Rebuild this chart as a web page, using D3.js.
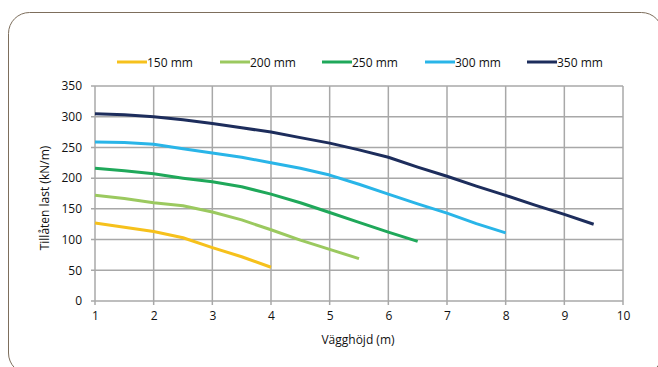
<!DOCTYPE html>
<html><head><meta charset="utf-8">
<script src="https://cdn.jsdelivr.net/npm/d3@7"></script>
<style>body{margin:0;background:#fff;}svg{display:block;font-family:"Open Sans",sans-serif;}</style>
</head><body>
<svg id="c" width="658" height="367"></svg>
<script>
const seriesNames = ["150 mm","200 mm","250 mm","300 mm","350 mm"];
const colors = ["#f6c11c","#9bc95f","#1fa85a","#29b5e8","#1d2d5c"];
const xs150 = [1,2,2.5,3,3.5,4];
const ys150 = [127,113,103,87,72,55];
const xs200 = [1,1.5,2,2.5,3,3.5,4,4.5,5,5.5];
const ys200 = [172,167,160,155,145,132,116,99,84,69];
const xs250 = [1,1.5,2,2.5,3,3.5,4,4.5,5,5.5,6,6.5];
const ys250 = [216,212,207,200,194,186,174,160,144,128,112,97];
const xs300 = [1,1.5,2,2.5,3,3.5,4,4.5,5,5.5,6,6.5,7,7.5,8];
const ys300 = [259,258,255,248,241,234,225,216,205,190,174,158,143,126,111];
const xs350 = [1,1.5,2,2.5,3,3.5,4,4.5,5,5.5,6,6.5,7,7.5,8,8.5,9,9.5];
const ys350 = [305,303,300,295,289,282,275,266,257,246,234,218,203,187,172,156,141,125];
const xTicks = [1,2,3,4,5,6,7,8,9,10];
const yTicks = [0,50,100,150,200,250,300,350];

const series = [[xs150,ys150],[xs200,ys200],[xs250,ys250],[xs300,ys300],[xs350,ys350]];
const svg = d3.select("#c");
const x = d3.scaleLinear().domain([1,10]).range([95,623]);
const y = d3.scaleLinear().domain([0,350]).range([301,86]);

// frame
svg.append("rect").attr("x",8.5).attr("y",12.5).attr("width",654).attr("height",361.5)
  .attr("rx",21).attr("fill","none").attr("stroke","#7d6e5c").attr("stroke-width",1);

// grid
const g = svg.append("g");
g.selectAll(".vg").data(xTicks).join("line")
  .attr("x1",d=>x(d)).attr("x2",d=>x(d)).attr("y1",y(350)).attr("y2",y(0)+4)
  .attr("stroke","#a8a8a8").attr("stroke-width",1.5);
g.selectAll(".hg").data(yTicks).join("line")
  .attr("x1",x(1)-4).attr("x2",x(10)).attr("y1",d=>y(d)).attr("y2",d=>y(d))
  .attr("stroke","#a8a8a8").attr("stroke-width",1.5);

// axes labels
const xa = svg.append("g").attr("transform",`translate(0,${y(0)})`)
  .call(d3.axisBottom(x).tickValues(xTicks).tickSize(0).tickPadding(10).tickFormat(d3.format("d")));
xa.select(".domain").remove();
const ya = svg.append("g").attr("transform",`translate(${x(1)},0)`)
  .call(d3.axisLeft(y).tickValues(yTicks).tickSize(0).tickPadding(13));
ya.select(".domain").remove();
svg.selectAll(".tick text").attr("font-size",12).attr("fill","#111").attr("font-family","'Open Sans',sans-serif");

// lines
const line = d3.line().x(d=>x(d[0])).y(d=>y(d[1]));
series.forEach((s,i)=>{
  const pts = s[0].map((v,j)=>[v,s[1][j]]);
  svg.append("path").datum(pts).attr("d",line).attr("fill","none")
    .attr("stroke",colors[i]).attr("stroke-width",3).attr("stroke-linejoin","round");
});

// legend
const lx = [117,220,322,425,527];
seriesNames.forEach((n,i)=>{
  svg.append("line").attr("x1",lx[i]).attr("x2",lx[i]+30).attr("y1",62).attr("y2",62)
    .attr("stroke",colors[i]).attr("stroke-width",3);
  svg.append("text").attr("x",lx[i]+30).attr("y",66.5).attr("font-size",12).attr("fill","#111").text(n);
});

// titles
svg.append("text").attr("x",358).attr("y",344).attr("text-anchor","middle").attr("font-size",12).attr("fill","#111").text("Vägghöjd (m)");
svg.append("text").attr("transform","translate(49,198) rotate(-90)").attr("text-anchor","middle").attr("font-size",12).attr("fill","#111").text("Tillåten last (kN/m)");
</script>
</body></html>
